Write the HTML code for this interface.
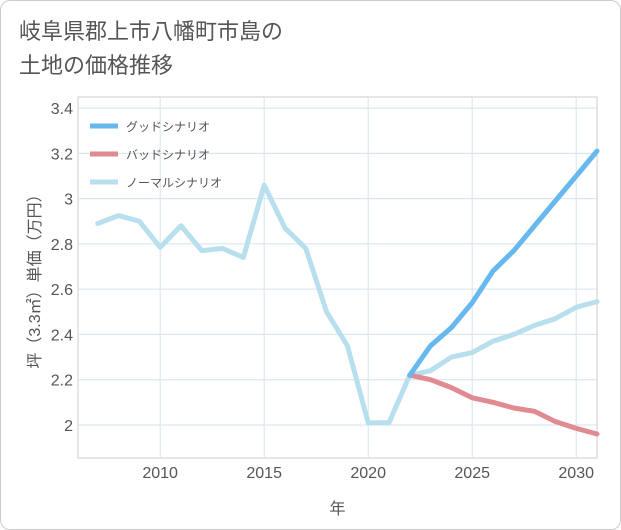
<!DOCTYPE html>
<html><head><meta charset="utf-8"><style>
body{margin:0;background:#fff;font-family:"Liberation Sans","Noto Sans CJK JP",sans-serif;}
#wrap{position:relative;width:619px;height:528px;border:1px solid #ccc;border-radius:10px;background:#fff;overflow:hidden}
#title{position:absolute;left:18px;top:14px;font-size:22px;line-height:34px;color:#555;}
</style></head><body>
<div id="wrap">
<div id="title">岐阜県郡上市八幡町市島の<br>土地の価格推移</div>
<svg id="chart" width="621" height="530" style="position:absolute;left:-1px;top:-1px"></svg>
</div>
<script>
const years=[2007,2008,2009,2010,2011,2012,2013,2014,2015,2016,2017,2018,2019,2020,2021,2022,2023,2024,2025,2026,2027,2028,2029,2030,2031];
const normal=[2.89,2.925,2.9,2.785,2.88,2.77,2.78,2.74,3.06,2.87,2.78,2.5,2.35,2.01,2.01,2.22,2.24,2.3,2.32,2.37,2.4,2.44,2.47,2.52,2.545];
const fYears=[2022,2023,2024,2025,2026,2027,2028,2029,2030,2031];
const good=[2.22,2.35,2.43,2.54,2.68,2.77,2.88,2.99,3.1,3.21];
const bad=[2.22,2.2,2.165,2.12,2.1,2.075,2.06,2.015,1.985,1.96];
const xTicks=[2010,2015,2020,2025,2030];
const yTicks=[2,2.2,2.4,2.6,2.8,3,3.2,3.4];
const L=78,R=597,T=97,B=458;
const x=v=>L+(v-2006.05)/(2031-2006.05)*(R-L);
const y=v=>B-(v-1.854)/(3.449-1.854)*(B-T);
const svg=document.getElementById('chart');const NS='http://www.w3.org/2000/svg';
function mk(t,a,p){const e=document.createElementNS(NS,t);for(const k in a)e.setAttribute(k,a[k]);(p||svg).appendChild(e);return e;}
let bg=mk('rect',{x:L,y:T,width:R-L,height:B-T,fill:'#fff',stroke:'#ccc'});


xTicks.forEach(v=>{let g=mk('line',{x1:x(v),x2:x(v),y1:T,y2:B,stroke:'#d5e3ec'});


let t=mk('text',{x:x(v),y:B+20,'text-anchor':'middle','font-size':16,fill:'#555'});t.textContent=v;

});
yTicks.forEach(v=>{let g=mk('line',{x1:L,x2:R,y1:y(v),y2:y(v),stroke:'#d5e3ec'});


let t=mk('text',{x:L-5,y:y(v)+6,'text-anchor':'end','font-size':16,fill:'#555'});t.textContent=v;

});
let xt=mk('text',{x:(L+R)/2,y:514,'text-anchor':'middle','font-size':16,fill:'#555'});xt.textContent='年';


let yt=mk('text',{x:0,y:0,'text-anchor':'middle','font-size':16,fill:'#555',transform:`translate(40,${(T+B)/2}) rotate(-90)`});yt.textContent='坪（3.3㎡）単価（万円）';


function line(xs,vs,c,n){let p=mk('polyline',{points:xs.map((v,i)=>x(v)+','+y(vs[i])).join(' '),fill:'none',stroke:c,'stroke-width':5,'stroke-linejoin':'round','stroke-linecap':'round'});

}
line(years,normal,'#b8dfee','normal-line');
line(fYears,bad,'#e08b92','bad-line');
line(fYears,good,'#66b8ee','good-line');
[['グッドシナリオ','#66b8ee'],['バッドシナリオ','#e08b92'],['ノーマルシナリオ','#b8dfee']].forEach((d,i)=>{
let yy=126+i*28;
let g=mk('g',{});


mk('line',{x1:90,x2:118,y1:yy,y2:yy,stroke:d[1],'stroke-width':5},g);
let t=mk('text',{x:126,y:yy+5,'font-size':12,fill:'#555'},g);t.textContent=d[0];});
</script></body></html>
